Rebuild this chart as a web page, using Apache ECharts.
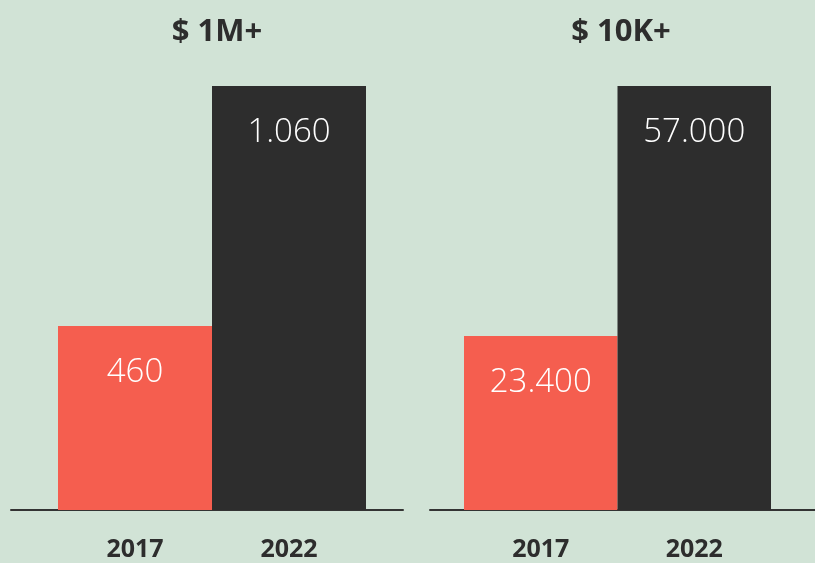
<!DOCTYPE html>
<html>
<head>
<meta charset="utf-8">
<style>
  html, body { margin: 0; padding: 0; background: #d1e3d6; }
  #chart { width: 815px; height: 563px; }
</style>
<script src="https://cdn.jsdelivr.net/npm/echarts@6/dist/echarts.min.js"></script>
</head>
<body>
<div id="chart"></div>
<script>
const years = ['2017', '2022']
const millionValues = [460, 1060]
const tenKValues = [23400, 57000]
const panelTitles = ['$ 1M+', '$ 10K+']
const barColors = ['#f55e4f', '#2d2d2d']

const font = "'Open Sans', sans-serif"
const textColor = '#2d2d2d'

// 1.060 / 57.000 style separators
const fmt = v => String(v).replace(/\B(?=(\d{3})+(?!\d))/g, '.')

const chart = echarts.init(document.getElementById('chart'))

const barSeries = (values, idx) => ({
  type: 'bar',
  xAxisIndex: idx,
  yAxisIndex: idx,
  barWidth: '100%',
  data: values.map((v, i) => ({ value: v, itemStyle: { color: barColors[i] } })),
  label: {
    show: true,
    position: 'insideTop',
    distance: 30,
    color: '#ffffff',
    fontFamily: font,
    fontSize: 33,
    fontWeight: 300,
    formatter: p => fmt(p.value)
  },
  silent: true
})

const titleStyle = { color: textColor, fontFamily: font, fontSize: 31, fontWeight: 'bold' }

const option = {
  backgroundColor: '#d1e3d6',
  animation: false,
  title: [
    { text: panelTitles[0], left: 212, top: 12, textAlign: 'center', textStyle: titleStyle },
    { text: panelTitles[1], left: 616, top: 12, textAlign: 'center', textStyle: titleStyle }
  ],
  grid: [
    { left: 58, width: 308, top: 86, bottom: 53 },
    { left: 464, width: 307, top: 86, bottom: 53 },
    { left: 11, width: 392, top: 86, bottom: 53 },
    { left: 430, width: 390, top: 86, bottom: 53 }
  ],
  xAxis: [0, 1].map(i => ({
    type: 'category',
    gridIndex: i,
    data: years,
    axisLine: { show: false },
    axisTick: { show: false },
    axisLabel: { color: textColor, fontFamily: font, fontSize: 25, fontWeight: 'bold', margin: 27 }
  })).concat([2, 3].map(i => ({
    type: 'value',
    gridIndex: i,
    min: 0,
    max: 1,
    axisLine: { show: true, lineStyle: { color: '#333333', width: 2 } },
    axisTick: { show: false },
    axisLabel: { show: false },
    splitLine: { show: false }
  }))),
  yAxis: [
    { type: 'value', gridIndex: 0, min: 0, max: 'dataMax', show: false },
    { type: 'value', gridIndex: 1, min: 0, max: 'dataMax', show: false },
    { type: 'value', gridIndex: 2, min: 0, max: 1, show: false },
    { type: 'value', gridIndex: 3, min: 0, max: 1, show: false }
  ],
  series: [
    barSeries(millionValues, 0),
    barSeries(tenKValues, 1)
  ]
}

chart.setOption(option)
</script>
</body>
</html>
